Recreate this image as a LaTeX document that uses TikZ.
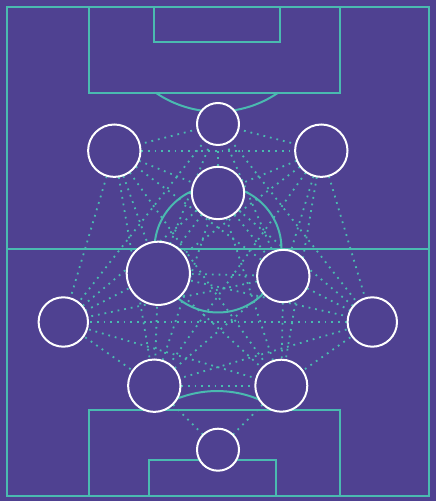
\documentclass[tikz,border=0pt]{standalone}
\usetikzlibrary{backgrounds}
\definecolor{pitchbg}{RGB}{79,65,145}
\definecolor{pline}{RGB}{74,186,176}
\pgfdeclarelayer{edgelayer}
\pgfsetlayers{background,edgelayer,main}
\begin{document}
\begin{tikzpicture}[x=1pt,y=1pt,
  pitch/.style={draw=pline, line width=2pt},
  player/.style={circle, draw=white, line width=2pt, fill=pitchbg, inner sep=0pt},
  pass/.style={draw=pline, line width=1.8pt, line cap=butt, dash pattern=on 1.8pt off 4.9pt}]
\useasboundingbox (0,0) rectangle (436,501);
\begin{pgfonlayer}{background}
\fill[pitchbg] (0,0) rectangle (436,501);
\draw[pitch] (7,5.3) rectangle (429.3,494.3);
\draw[pitch] (7,252.3) -- (429.3,252.3);
\draw[pitch] (218,252) circle[radius=63.5];
% top penalty area
\draw[pitch] (88.7,494.3) -- (88.7,408.3) -- (339.7,408.3) -- (339.7,494.3);
\draw[pitch] (153.7,494.3) -- (153.7,459) -- (280.3,459) -- (280.3,494.3);
\draw[pitch] (155.7,408.3) arc[start angle=235.6, end angle=304.4, radius=108.4];
% bottom penalty area
\draw[pitch] (88.7,5.3) -- (88.7,91) -- (339.7,91) -- (339.7,5.3);
\draw[pitch] (149.3,5.3) -- (149.3,41) -- (276,41) -- (276,5.3);
\draw[pitch] (278.3,91) arc[start angle=55.6, end angle=124.4, radius=108.4];
\end{pgfonlayer}

\node[player, minimum size=42pt] (A) at (218,377) {};
\node[player, minimum size=52.4pt] (B) at (114.3,350.3) {};
\node[player, minimum size=52.4pt] (C) at (321.3,350.3) {};
\node[player, minimum size=52.4pt] (D) at (218,308) {};
\node[player, minimum size=63.2pt] (E) at (158.3,227.7) {};
\node[player, minimum size=52.4pt] (F) at (283.3,225) {};
\node[player, minimum size=49.4pt] (G) at (63.3,179) {};
\node[player, minimum size=49.4pt] (H) at (372.3,179) {};
\node[player, minimum size=52.4pt] (I) at (154.3,115.3) {};
\node[player, minimum size=52pt] (J) at (281.3,115.3) {};
\node[player, minimum size=42pt] (K) at (218,51.3) {};

\begin{pgfonlayer}{edgelayer}
\foreach \u/\v in {A/B,A/C,A/D,A/E,A/F,A/G,A/H,
                   B/C,B/D,B/E,B/F,B/G,B/I,B/J,
                   C/D,C/E,C/F,C/H,C/I,C/J,
                   D/E,D/F,D/G,D/H,D/I,D/J,
                   E/F,E/G,E/H,E/I,E/J,
                   F/G,F/H,F/I,F/J,
                   G/H,G/I,G/J,
                   H/I,H/J,
                   I/J,I/K,J/K}
  \draw[pass] (\u.center) -- (\v.center);
\end{pgfonlayer}
\end{tikzpicture}
\end{document}
